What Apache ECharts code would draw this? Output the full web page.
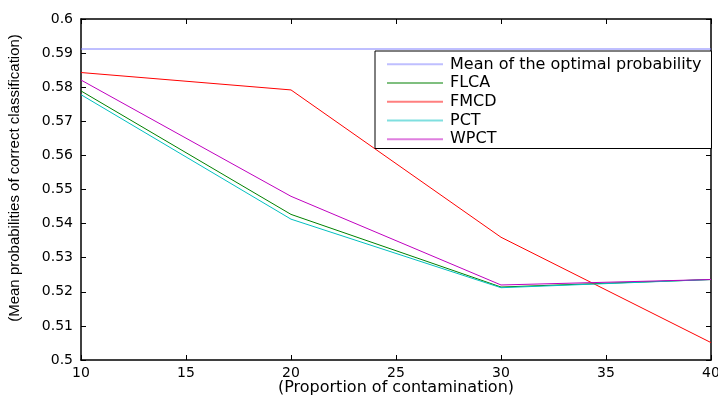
<!DOCTYPE html>
<html>
<head>
<meta charset="utf-8">
<script src="https://cdn.jsdelivr.net/npm/echarts@6/dist/echarts.min.js"></script>
<style>
  html, body { margin: 0; padding: 0; background: #fff; }
  #chart { width: 718px; height: 397px; }
</style>
</head>
<body>
<div id="chart"></div>
<script>
const xValues = [10, 20, 30, 40];
const meanOptimal = [0.5912, 0.5912, 0.5912, 0.5912];
const flca = [0.5789, 0.5427, 0.5214, 0.5236];
const fmcd = [0.5843, 0.5792, 0.5360, 0.5051];
const pct = [0.5778, 0.5413, 0.5212, 0.5236];
const wpct = [0.5821, 0.5480, 0.5220, 0.5236];

const seriesNames = ['Mean of the optimal probability', 'FLCA', 'FMCD', 'PCT', 'WPCT'];
const seriesColors = ['#7f7fff', '#008000', '#ff0000', '#00bfbf', '#bf00bf'];
const seriesData = [meanOptimal, flca, fmcd, pct, wpct];

const wideFont = 'DejaVu Sans, sans-serif';
const narrowFont = 'Liberation Sans, Arial, sans-serif';

const chart = echarts.init(document.getElementById('chart'));

const baseX = {
  type: 'value',
  min: 10,
  max: 40,
  interval: 5,
  splitLine: { show: false },
  axisLine: { lineStyle: { color: '#000', width: 1.5 } },
  axisTick: { inside: true, length: 5, lineStyle: { color: '#000' } },
};
const baseY = {
  type: 'value',
  min: 0.5,
  max: 0.6,
  interval: 0.01,
  splitLine: { show: false },
  axisLine: { show: true, lineStyle: { color: '#000', width: 1.5 } },
  axisTick: { show: true, inside: true, length: 5, lineStyle: { color: '#000' } },
};

chart.setOption({
  animation: false,
  grid: { left: 81, right: 7, top: 19, bottom: 37, outerBoundsMode: 'none' },
  xAxis: [
    {
      ...baseX,
      position: 'bottom',
      axisLabel: { color: '#000', fontSize: 14, fontFamily: wideFont, margin: 6 },
    },
    { ...baseX, position: 'top', axisLabel: { show: false } },
  ],
  yAxis: [
    {
      ...baseY,
      position: 'left',
      axisLabel: {
        color: '#000', fontSize: 14, fontFamily: wideFont, margin: 8,
        formatter: v => String(parseFloat(v.toFixed(2))),
      },
    },
    { ...baseY, position: 'right', axisLabel: { show: false } },
  ],
  graphic: [
    {
      type: 'text',
      x: 15,
      y: 178,
      rotation: Math.PI / 2,
      style: {
        text: '(Mean probabilities of correct classification)',
        fill: '#000',
        font: '15px ' + narrowFont,
        align: 'center',
        verticalAlign: 'middle',
      },
    },
    {
      type: 'text',
      x: 396,
      y: 388,
      style: {
        text: '(Proportion of contamination)',
        fill: '#000',
        font: '16px ' + wideFont,
        align: 'center',
        verticalAlign: 'middle',
      },
    },
  ],
  legend: {
    orient: 'vertical',
    left: 375,
    top: 51,
    padding: [4, 10, 0, 12],
    icon: 'rect',
    itemWidth: 56,
    itemHeight: 2,
    itemGap: 0,
    backgroundColor: '#fff',
    borderColor: '#000',
    borderWidth: 1,
    textStyle: { color: '#000', fontSize: 16, lineHeight: 18.7, fontFamily: wideFont, padding: [0, 0, 0, 2] },
    data: seriesNames.map(name => ({ name, itemStyle: { opacity: 0.5 } })),
  },
  series: seriesNames.map((name, i) => ({
    name,
    type: 'line',
    symbol: 'none',
    color: seriesColors[i],
    lineStyle: { width: 1, color: seriesColors[i] },
    data: xValues.map((x, j) => [x, seriesData[i][j]]),
  })),
});
</script>
</body>
</html>
